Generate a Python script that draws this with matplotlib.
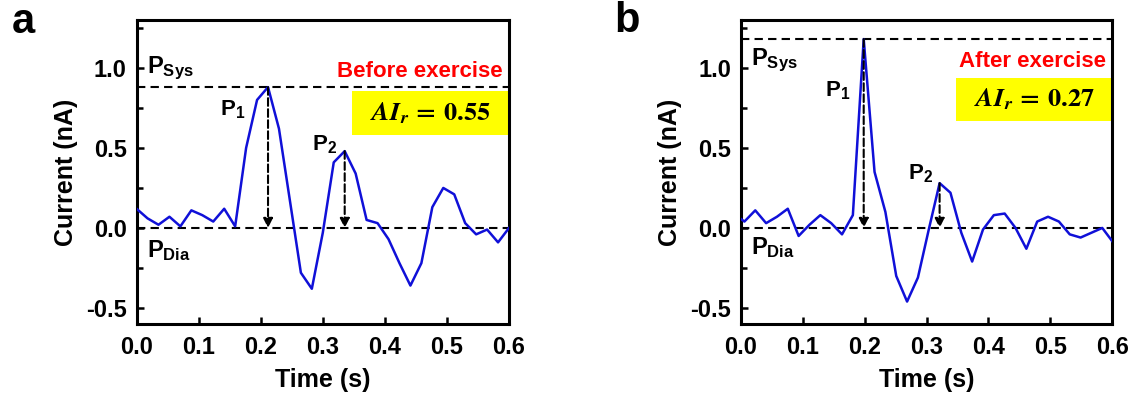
import matplotlib
matplotlib.use('Agg')
import matplotlib.pyplot as plt
from matplotlib.patches import Rectangle
import numpy as np

plt.rcParams['font.family'] = ['Liberation Sans', 'DejaVu Sans']
plt.rcParams['font.weight'] = 'bold'
plt.rcParams['axes.labelweight'] = 'bold'
plt.rcParams['axes.unicode_minus'] = False
plt.rcParams['mathtext.fontset'] = 'custom'
plt.rcParams['mathtext.rm'] = 'Liberation Sans:bold'
plt.rcParams['mathtext.bf'] = 'Liberation Sans:bold'
plt.rcParams['mathtext.it'] = 'Liberation Sans:bold'

# data: pulse waveform before / after exercise
t_a = np.linspace(0.0, 0.6, 35)
cur_a = [0.12, 0.06, 0.02, 0.07, 0.01, 0.11, 0.08, 0.04, 0.12, 0.01,
         0.50, 0.80, 0.88, 0.62, 0.17, -0.28, -0.38, -0.03, 0.41, 0.48,
         0.34, 0.05, 0.03, -0.07, -0.22, -0.36, -0.22, 0.13, 0.25, 0.21,
         0.03, -0.04, -0.01, -0.09, 0.00]
t_b = np.linspace(-0.012, 0.6015, 36)
cur_b = [0.09, 0.04, 0.11, 0.03, 0.07, 0.12, -0.05, 0.02, 0.08, 0.03,
         -0.04, 0.08, 1.18, 0.35, 0.10, -0.30, -0.46, -0.31, -0.01, 0.28,
         0.22, -0.03, -0.21, -0.01, 0.08, 0.09, 0.00, -0.13, 0.04, 0.07,
         0.04, -0.04, -0.06, -0.03, 0.00, -0.09]

p1_a, p2_a = 12, 19   # indices of P1 / P2 peaks
p1_b, p2_b = 12, 19
ai_a, ai_b = 0.55, 0.27
titles = ['Before exercise', 'After exercise']

fig = plt.figure(figsize=(11.4, 3.98), dpi=100)
ax_a = fig.add_axes([0.1198, 0.186, 0.3267, 0.764])
ax_b = fig.add_axes([0.650, 0.186, 0.3256, 0.764])


def draw_panel(ax, t, y, i1, i2, ai, title, lbl_pos):
    y = np.asarray(y)
    psys = y[i1]
    ax.plot(t, y, color='#1010d8', lw=1.8, zorder=3)
    ax.axhline(psys, color='k', ls=(0, (4, 2.5)), lw=1.5, zorder=2)
    ax.axhline(0.0, color='k', ls=(0, (4, 2.5)), lw=1.5, zorder=2)
    for i in (i1, i2):
        ax.annotate('', xy=(t[i], 0.0), xytext=(t[i], y[i]),
                    arrowprops=dict(arrowstyle='-|>', ls='--', lw=1.5, color='k',
                                    mutation_scale=14, shrinkA=0, shrinkB=0),
                    zorder=4)

    ax.set_xlim(0, 0.6)
    ax.set_ylim(-0.6, 1.3)
    ax.set_xticks(np.arange(0, 0.61, 0.1))
    ax.set_yticks([-0.5, 0.0, 0.5, 1.0])
    ax.set_yticks([-0.25, 0.25, 0.75, 1.25], minor=True)
    ax.tick_params(direction='in', length=5, width=1.8, labelsize=17, pad=7)
    ax.tick_params(which='minor', direction='in', length=4, width=1.8)
    ax.tick_params(axis='x', pad=9)
    for s in ax.spines.values():
        s.set_linewidth(2.2)
    ax.set_xlabel('Time (s)', fontsize=18, labelpad=6)
    ax.set_ylabel('Current (nA)', fontsize=18, labelpad=6)

    (sys_y, dia_y, p1x, p1y, p2x, p2y, title_y, box_y0, box_y1) = lbl_pos
    ax.text(0.016, sys_y, r'$\mathbf{P_{Sys}}$', fontsize=17, va='center')
    ax.text(0.016, dia_y, r'$\mathbf{P_{Dia}}$', fontsize=17, va='center')
    ax.text(p1x, p1y, r'$\mathbf{P_{1}}$', fontsize=16, va='center')
    ax.text(p2x, p2y, r'$\mathbf{P_{2}}$', fontsize=16, va='center')
    ax.text(0.590, title_y, title, color='#ff0000', fontsize=16,
            fontweight='bold', ha='right', va='center')
    ax.add_patch(Rectangle((0.347, box_y0), 0.6 - 0.347, box_y1 - box_y0,
                           facecolor='#ffff00', edgecolor='none', zorder=1))
    ax.text((0.347 + 0.6) / 2, (box_y0 + box_y1) / 2,
            r'$\mathbfit{AI}_{\mathbfit{r}}\,=\,\mathbf{%.2f}$' % ai,
            fontsize=19, ha='center', va='center', math_fontfamily='stix',
            zorder=5)


draw_panel(ax_a, t_a, cur_a, p1_a, p2_a, ai_a, titles[0],
           (1.0, -0.14, 0.135, 0.74, 0.283, 0.52, 0.98, 0.58, 0.855))
draw_panel(ax_b, t_b, cur_b, p1_b, p2_b, ai_b, titles[1],
           (1.05, -0.12, 0.135, 0.86, 0.270, 0.34, 1.04, 0.667, 0.94))

fig.text(0.010, 0.945, 'a', fontsize=30, fontweight='bold', va='center')
fig.text(0.539, 0.948, 'b', fontsize=30, fontweight='bold', va='center')

plt.savefig('out.png', dpi=100)
